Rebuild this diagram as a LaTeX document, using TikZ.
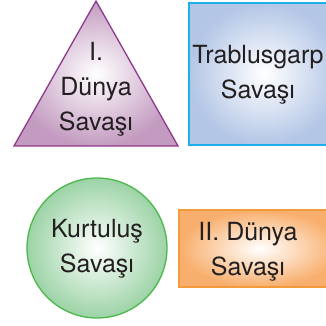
\documentclass[tikz,border=0pt]{standalone}
\usepackage{fontspec}
\setmainfont{TeX Gyre Heros}
\usetikzlibrary{positioning}
\definecolor{mor}{HTML}{C39BC0}
\definecolor{morcizgi}{HTML}{8E3A8C}
\definecolor{mavi}{HTML}{B3C6E6}
\definecolor{mavicizgi}{HTML}{1EAEE8}
\definecolor{yesil}{HTML}{9CD3A6}
\definecolor{yesilcizgi}{HTML}{4CB84A}
\definecolor{turuncu}{HTML}{F8AE6C}
\definecolor{turuncucizgi}{HTML}{F39A3A}
\definecolor{metin}{HTML}{231F20}
\tikzset{etiket/.style = {align = center, text = metin, font = \fontsize{25}{35}\selectfont, inner sep = 0}}

\begin{document}
\begin{tikzpicture}[x = 1pt, y = -1pt]
      \useasboundingbox (0, 0) rectangle (326, 326);
      \clip (0, 0) rectangle (326, 326);
      \shadedraw [inner color = white, outer color = mor, draw = morcizgi, line width = 1.3] (96, 1) -- (178, 146) -- (14, 146) -- cycle;
      \shadedraw [inner color = white, outer color = mavi, draw = mavicizgi, line width = 1.5] (189, 3) rectangle (340, 145);
      \shadedraw [inner color = white, outer color = yesil, draw = yesilcizgi, line width = 1.3] (97, 248) circle (70);
      \shadedraw [inner color = white, outer color = turuncu, draw = turuncucizgi, line width = 1.5] (179, 210) rectangle (340, 287);
      \node [etiket] (dunya1) at (96, 89) {I.\\Dünya\\Savaşı};
      \node [etiket] (trablus) at (258, 75) {Trablusgarp\\Savaşı};
      \node [etiket] (kurtulus) at (97, 249) {Kurtuluş\\Savaşı};
      \node [etiket] (dunya2) at (248, 252) {II. Dünya\\Savaşı};
    \end{tikzpicture}
\end{document}
